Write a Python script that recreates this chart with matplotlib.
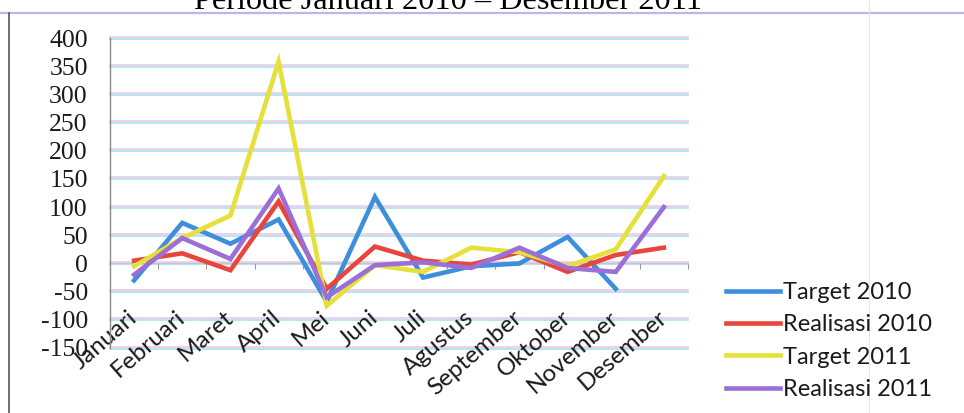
import numpy as np
import matplotlib
matplotlib.use("Agg")
import matplotlib.pyplot as plt
from matplotlib.transforms import ScaledTranslation
from matplotlib.lines import Line2D

months = ["Januari", "Februari", "Maret", "April", "Mei", "Juni", "Juli",
          "Agustus", "September", "Oktober", "November", "Desember"]
target_2010 = [-30, 72, 35, 78, -68, 118, -25, -5, 0, 47, -45, np.nan]
realisasi_2010 = [5, 18, -12, 110, -45, 30, 5, -2, 20, -15, 15, 28]
target_2011 = [-5, 45, 85, 358, -75, -3, -15, 28, 20, -5, 25, 155]
realisasi_2011 = [-20, 45, 8, 133, -60, -3, 2, -8, 28, -8, -15, 100]
series_names = ["Target 2010", "Realisasi 2010", "Target 2011", "Realisasi 2011"]
y_ticks = [-150, -100, -50, 0, 50, 100, 150, 200, 250, 300, 350, 400]
title_text = "Periode Januari 2010 \u2013 Desember 2011"

colors = ["#3d8fdc", "#e8453c", "#e6e03a", "#9b6fd6"]

fig = plt.figure(figsize=(9.64, 4.13), dpi=100)
W, H = 964, 413
ax = fig.add_axes([110 / W, 1 - 348 / H, (688 - 110) / W, (348 - 38) / H])

x = np.arange(len(months))
ax.set_xlim(-0.5, len(months) - 0.5)
ax.set_ylim(-150, 400)

# gridlines with slight scan-like double colour
ytrans = ax.get_yaxis_transform()
for yv in y_ticks:
    ax.plot([0, 1], [yv, yv], color="#f2c6e6", lw=1.2, zorder=0, clip_on=False,
            transform=ytrans + ScaledTranslation(0, 1.5 / 100, fig.dpi_scale_trans))
    ax.plot([0, 1], [yv, yv], color="#a8e2ee", lw=1.2, zorder=0, clip_on=False,
            transform=ytrans + ScaledTranslation(0, -0.5 / 100, fig.dpi_scale_trans))

all_series = [target_2010, realisasi_2010, target_2011, realisasi_2011]
for vals, name, c in zip(all_series, series_names, colors):
    ax.plot(x, vals, color=c, lw=3.3, label=name, solid_joinstyle="miter", zorder=3)

# axes styling
for s in ["top", "right", "bottom"]:
    ax.spines[s].set_visible(False)
ax.spines["left"].set_color("#8a8a8a")
ax.spines["left"].set_linewidth(1.0)
ax.set_yticks(y_ticks)
ax.set_yticklabels([str(v) for v in y_ticks])
ax.tick_params(axis="y", length=0, pad=16, labelsize=18.5,
               labelfontfamily="Liberation Serif", labelcolor="#1a1a1a")

ax.set_xticks(x)
ax.set_xticklabels(months, rotation=41, ha="right", va="center",
                   rotation_mode="anchor")
ax.tick_params(axis="x", length=0, pad=-24, labelsize=17.5,
               labelfontfamily="Lato", labelcolor="#1a1a1a")

# category axis crossing at zero with small tick marks
zero_frac = (0 - (-150)) / 550
sec = ax.secondary_xaxis(zero_frac)
sec.set_xticks(np.arange(-0.5, len(months) + 0.5, 1))
sec.set_xticklabels([])
sec.tick_params(length=4, color="#999999", direction="out")
sec.spines["bottom"].set_color("#b8c8d8")
sec.spines["bottom"].set_linewidth(1.0)

# legend
handles = [Line2D([0], [0], color=c, lw=3.3) for c in colors]
leg = fig.legend(handles, series_names, loc="upper left",
                 bbox_to_anchor=(726 / W, 1 - 282 / H), frameon=False,
                 prop={"family": "Lato", "size": 17}, handlelength=2.3,
                 handletextpad=0.12, labelspacing=0.48, borderaxespad=0,
                 borderpad=0)
for t in leg.get_texts():
    t.set_color("#1a1a1a")

# frame lines (chart border)
fig.add_artist(Line2D([0, 1], [1 - 13 / H, 1 - 13 / H], transform=fig.transFigure,
                      color="#b7b7e8", lw=1.6))
fig.add_artist(Line2D([9 / W, 9 / W], [0, 1 - 13 / H], transform=fig.transFigure,
                      color="#555555", lw=1.2))
fig.add_artist(Line2D([869 / W, 869 / W], [0, 1], transform=fig.transFigure,
                      color="#e6e6e6", lw=0.8))

# title, cut off at top
fig.text(448 / W, 1 - 9 / H, title_text, ha="center", va="baseline",
         family="Liberation Serif", fontsize=23.3)

fig.savefig("out.png", dpi=100)
